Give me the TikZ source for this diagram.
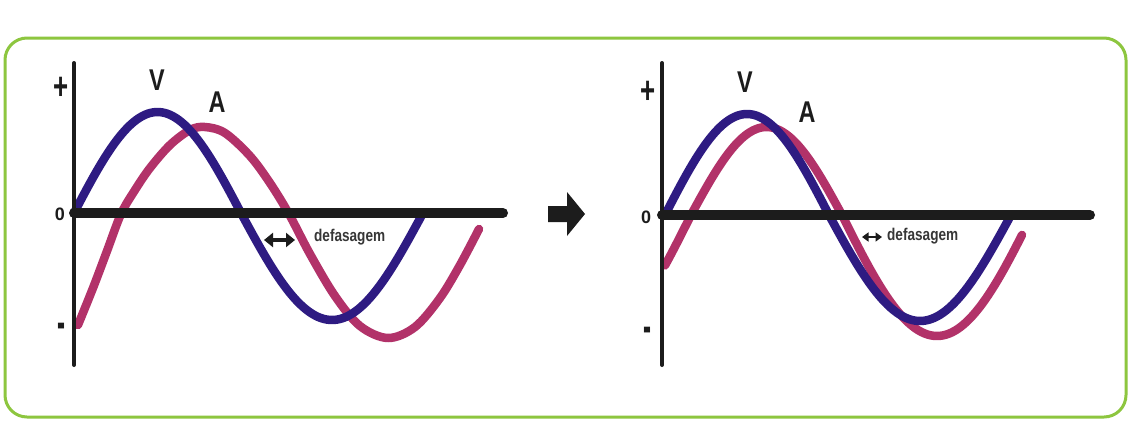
\documentclass[tikz,border=0pt]{standalone}
\usepackage{fontspec}
\setmainfont{Liberation Sans}
\usetikzlibrary{arrows.meta}
\definecolor{vblue}{RGB}{46,27,130}
\definecolor{amag}{RGB}{178,50,105}
\definecolor{framegreen}{RGB}{141,198,63}
\definecolor{axisblack}{RGB}{28,28,28}
\definecolor{txtgray}{RGB}{55,55,55}
\begin{document}
\begin{tikzpicture}[x=1pt,y=-1pt,
  wave/.style={line width=8.5pt, line cap=round, line join=round},
  vaxis/.style={axisblack, line width=4pt, line cap=round},
  haxis/.style={axisblack, line width=10pt, line cap=round},
  sign/.style={font=\bfseries\fontsize{18}{18}\selectfont, text=axisblack, inner sep=0pt},
  plussign/.style={font=\bfseries\fontsize{38}{38}\selectfont, text=axisblack, inner sep=0pt, xscale=0.68},
  minussign/.style={font=\bfseries\fontsize{24}{24}\selectfont, text=axisblack, inner sep=0pt, yscale=2},
  curvelabel/.style={font=\bfseries\fontsize{30}{30}\selectfont, text=axisblack, inner sep=0pt, xscale=0.78},
  shiftlabel/.style={font=\bfseries\fontsize{17}{17}\selectfont, text=txtgray, inner sep=0pt, xscale=0.8},
  dblarrow/.style={axisblack, line width=4pt, {Triangle[length=9pt,width=14pt]}-{Triangle[length=9pt,width=14pt]}},
  smallarrow/.style={axisblack, line width=2.6pt, {Triangle[length=6.5pt,width=9pt]}-{Triangle[length=6.5pt,width=9pt]}}
]
\useasboundingbox (0,0) rectangle (1130,421);
\fill[white] (0,0) rectangle (1130,421);
\draw[framegreen, line width=3pt, rounded corners=22pt] (5,38) rectangle (1126,417);

% ---------- left panel ----------
\draw[wave, amag] plot[smooth, tension=0.55] coordinates {(78,325) (93,288) (107,251) (121,214) (135,190) (150,168) (170,145) (190,130) (205,127) (225,133) (250,156) (270,183) (289,214) (310,254) (335,296) (360,326) (388,338) (415,327) (440,298) (460,265) (479,229)};
\draw[wave, vblue] plot[domain=74:241, samples=60] (\x,{213-101*sin((\x-74)/167*180)}) -- plot[domain=241:423, samples=60] (\x,{213+107*sin((\x-241)/182*180)});
\coordinate (L0) at (74,213);
\coordinate (Ltop) at (74,63);
\coordinate (Lbot) at (74,365);
\coordinate (Lend) at (503,213);
\draw[vaxis] (Ltop) -- (Lbot);
\draw[haxis] (L0) -- (Lend);
\node[plussign] (Lplus) at (61,88) {+};
\node[sign] (Lzero) at (60,214) {0};
\node[minussign] (Lminus) at (61,331) {-};
\node[curvelabel] (LV) at (157,80) {V};
\node[curvelabel] (LA) at (217,102) {A};
\coordinate (La1) at (264,240);
\coordinate (La2) at (295,240);
\draw[dblarrow] (La1) -- (La2);
\node[shiftlabel, anchor=west] (Ltext) at (314,237) {defasagem};

% ---------- block arrow ----------
\fill[axisblack] (548,206) -- (567,206) -- (567,192) -- (585,214) -- (567,236) -- (567,222) -- (548,222) -- cycle;

% ---------- right panel ----------
\draw[wave, amag] plot[domain=665:691, samples=15] (\x,{215+121*sin((691-\x)/190*180)}) -- plot[domain=691:842, samples=60] (\x,{215-88*sin((\x-691)/151*180)}) -- plot[domain=842:1022, samples=60] (\x,{215+121*sin((\x-842)/190*180)});
\draw[wave, vblue] plot[domain=665:829, samples=60] (\x,{215-101*sin((\x-665)/164*180)}) -- plot[domain=829:1011, samples=60] (\x,{215+106*sin((\x-829)/182*180)});
\coordinate (R0) at (662,215);
\coordinate (Rtop) at (662,63);
\coordinate (Rbot) at (662,365);
\coordinate (Rend) at (1090,215);
\draw[vaxis] (Rtop) -- (Rbot);
\draw[haxis] (R0) -- (Rend);
\node[plussign] (Rplus) at (648,92) {+};
\node[sign] (Rzero) at (646,217) {0};
\node[minussign] (Rminus) at (647,335) {-};
\node[curvelabel] (RV) at (745,82) {V};
\node[curvelabel] (RA) at (807,112) {A};
\coordinate (Ra1) at (862,237);
\coordinate (Ra2) at (882,237);
\draw[smallarrow] (Ra1) -- (Ra2);
\node[shiftlabel, anchor=west] (Rtext) at (887,236) {defasagem};
\end{tikzpicture}
\end{document}
